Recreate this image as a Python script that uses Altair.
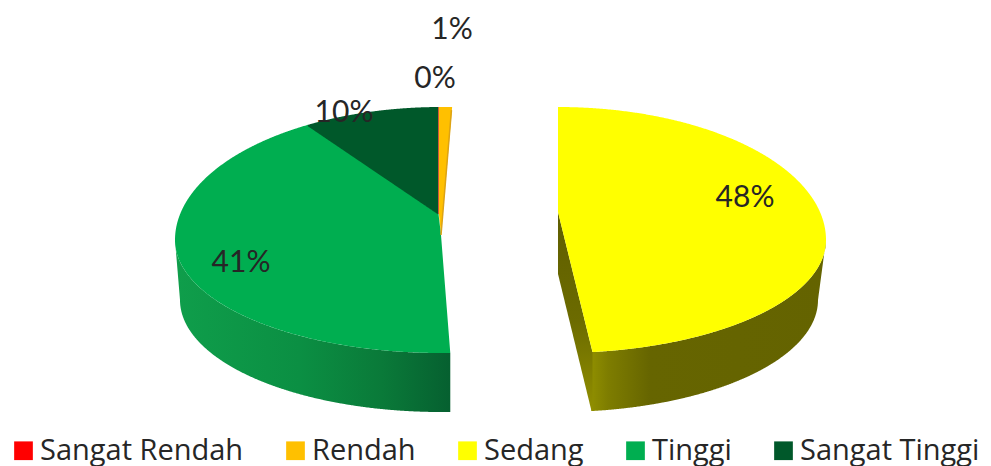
import numpy as np
import pandas as pd
import altair as alt

# values
categories = ["Sangat Rendah", "Rendah", "Sedang", "Tinggi", "Sangat Tinggi"]
percent_labels = ["0%", "1%", "48%", "41%", "10%"]
colors = ["#FF0000", "#FFC000", "#FFFF00", "#00AE50", "#00582A"]

# apparent (perspective) slice boundaries of the top face, degrees clockwise from 12 o'clock
sedang_span = (0.0, 172.6)
tinggi_span = (178.0, 330.0)
st_tinggi_span = (330.0, 359.4)
rendah_span = (359.55, 362.4)
s_rendah_span = (359.4, 359.55)

# label anchors in picture pixels
label_x = [435, 452, 745, 241, 344]
label_y = [79, 30, 198, 263, 113]

# ellipse geometry (picture pixels); the perspective makes upper and lower half differ
CX_L, CX_R = 441.0, 558.0
A_L, A_R = 266.0, 268.0
TOP = (240.0, 133.0, 113.0)
BOTTOM = (300.0, 112.0, 112.0)
A2_L, A2_R = 261.0, 260.0
APEX_Y_L, APEX_Y_R, TIP_Y = 214.0, 212.0, 235.0


def pt(cx, a, level, deg):
    cy, b_up, b_lo = level
    t = np.radians(deg)
    c = np.cos(t)
    return cx + a * np.sin(t), cy - (b_up if c > 0 else b_lo) * c


def arc(cx, a, level, d0, d1, n=240):
    ds = np.linspace(d0, d1, n)
    return np.array([pt(cx, a, level, d) for d in ds])


def area_rows(name, upper, lower):
    """upper and lower are polylines (x, y); sampled on a shared x grid."""
    upper = np.array(sorted(map(tuple, upper)))
    lower = np.array(sorted(map(tuple, lower)))
    xs = np.unique(np.concatenate([upper[:, 0], lower[:, 0]]))
    yu = np.interp(xs, upper[:, 0], upper[:, 1])
    yl = np.interp(xs, lower[:, 0], lower[:, 1])
    return pd.DataFrame({"kategori": name, "x": xs, "y": yu, "y2": yl})


# ---- top faces
# Sedang
d0, d1 = sedang_span
up = arc(CX_R, A_R, TOP, 0, 90)
lo = np.vstack([[[CX_R, APEX_Y_R]], arc(CX_R, A_R, TOP, d1, 90)])
sedang = area_rows(categories[2], up, lo)

# Tinggi
d0, d1 = tinggi_span
up = np.vstack([arc(CX_L, A_L, TOP, 270, d1), [[CX_L - 2.5, APEX_Y_L], [CX_L, TIP_Y]],
                [pt(CX_L, A_L, TOP, d0)]])
lo = arc(CX_L, A_L, TOP, d0, 270)
tinggi = area_rows(categories[3], up, lo)

# Sangat Tinggi (runs slightly under Tinggi, which is drawn after it, to avoid a seam)
d0, d1 = st_tinggi_span
up = arc(CX_L, A_L, TOP, d0, d1)
p0 = pt(CX_L, A_L, TOP, d0)
lo = np.array([[p0[0], p0[1] + 1.5], [pt(CX_L, A_L, TOP, d1)[0], APEX_Y_L + 0.5]])
st = area_rows(categories[4], up, lo)

# Rendah
d0, d1 = rendah_span
up = arc(CX_L, A_L, TOP, d0, d1, 10)
x0 = pt(CX_L, A_L, TOP, d0)[0]
x1 = pt(CX_L, A_L, TOP, d1)[0]
lo = np.array([[x0, APEX_Y_L], [CX_L, TIP_Y], [x1, up[-1][1]]])
rendah = area_rows(categories[1], up, lo)

# Sangat Rendah
d0, d1 = s_rendah_span
up = arc(CX_L, A_L, TOP, d0, d1, 4)
lo = np.array([[up[0][0], APEX_Y_L], [up[-1][0], APEX_Y_L]])
srendah = area_rows(categories[0], up, lo)

top = pd.concat([srendah, rendah, sedang, tinggi, st], ignore_index=True)

# ---- walls
up = arc(CX_R, A_R, TOP, 90, sedang_span[1], 300)
lo = np.vstack([arc(CX_R, A2_R, BOTTOM, 90, sedang_span[1], 300), [[CX_R + A_R, TOP[0]]]])
wall_r = area_rows("w", up, lo)
face_up = np.array([[CX_R, APEX_Y_R], pt(CX_R, A_R, TOP, sedang_span[1])])
face_lo = np.array([[CX_R, 274.0], pt(CX_R, A2_R, BOTTOM, sedang_span[1])])
face_r = area_rows("f", face_up, face_lo)

up = arc(CX_L, A_L, TOP, tinggi_span[0], 270, 300)
lo = np.vstack([arc(CX_L, A2_L, BOTTOM, tinggi_span[0], 270, 300), [[CX_L - A_L, TOP[0]]]])
wall_l = area_rows("w", up, lo)

labels = pd.DataFrame({"t": percent_labels, "x": label_x, "y": label_y})

y_scale = alt.Scale(domain=[465, 8])
x_enc = alt.X("x:Q", scale=alt.Scale(domain=[8, 983]), axis=None)
y_enc = alt.Y("y:Q", scale=y_scale, axis=None, stack=None)
y2_enc = alt.Y2("y2:Q")


def grad(stops, x2=1, y2=0):
    return alt.Gradient(
        gradient="linear", x1=0, y1=0, x2=x2, y2=y2,
        stops=[alt.GradientStop(offset=o, color=c) for o, c in stops],
    )


wall_right = alt.Chart(wall_r).mark_area(
    fill=grad([(0, "#8F8E00"), (0.07, "#7E7D00"), (0.25, "#666500"), (1, "#646300")]), interpolate="linear"
).encode(x=x_enc, y=y_enc, y2=y2_enc)

face_right = alt.Chart(face_r).mark_area(
    fill=grad([(0, "#5F5E00"), (0.55, "#6C6B00"), (1, "#918F00")], x2=0, y2=1), interpolate="linear"
).encode(x=x_enc, y=y_enc, y2=y2_enc)

wall_left = alt.Chart(wall_l).mark_area(
    fill=grad([(0, "#0F9E4B"), (0.45, "#0B8F43"), (0.75, "#0A7A39"), (1, "#066030")]), interpolate="linear"
).encode(x=x_enc, y=y_enc, y2=y2_enc)

faces = alt.Chart(top).mark_area(interpolate="linear").encode(
    x=x_enc,
    y=y_enc,
    y2=y2_enc,
    color=alt.Color(
        "kategori:N",
        sort=categories,
        scale=alt.Scale(domain=categories, range=colors),
        legend=alt.Legend(
            title=None,
            orient="none",
            legendX=1,
            legendY=428,
            direction="horizontal",
            columns=5,
            columnPadding=37,
            symbolType="square",
            symbolSize=350,
            symbolStrokeWidth=0,
            symbolOpacity=1,
            labelFont="Open Sans",
            labelFontSize=29,
            labelColor="#262626",
            labelOffset=2,
            padding=0,
            labelLimit=400,
        ),
    ),
    order=alt.Order("kategori:N"),
)

edge_df = pd.DataFrame({
    "x": [pt(CX_L, A_L, TOP, rendah_span[1])[0] - 0.7, CX_L],
    "y": [pt(CX_L, A_L, TOP, rendah_span[1])[1] + 3, TIP_Y],
})
edge = alt.Chart(edge_df).mark_line(color="#DDA314", strokeWidth=1.5).encode(
    x=x_enc, y=alt.Y("y:Q", scale=y_scale, axis=None)
)

text = alt.Chart(labels).mark_text(
    font="Lato", fontSize=30, color="#262626", align="center", baseline="middle"
).encode(x=x_enc, y=alt.Y("y:Q", scale=y_scale, axis=None), text="t:N")

chart = (
    alt.layer(wall_right, face_right, wall_left, faces, edge, text)
    .properties(width=975, height=457, padding=0, background="white")
    .configure_view(stroke=None)
)

chart.save("out.html", embed_options={"renderer": "svg", "actions": False})
